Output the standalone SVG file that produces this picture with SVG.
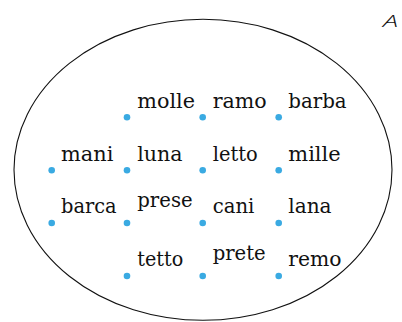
<svg xmlns="http://www.w3.org/2000/svg" width="402" height="322" viewBox="0 0 402 322">
<style>
.w{font-family:"DejaVu Serif","Liberation Serif",serif;font-size:20.3px;fill:#111}
.d{fill:#3aaae2}
.s{fill:none;stroke:#111;stroke-width:1.1}
</style>
<rect width="402" height="322" fill="#fff"/>
<g id="setA">
<ellipse class="s" cx="203" cy="169.8" rx="189" ry="150.5"/>
<text x="383" y="26.7" font-family="'Open Sans','DejaVu Sans',sans-serif" font-size="17" font-style="italic" font-weight="300" fill="#111" textLength="15" lengthAdjust="spacingAndGlyphs">A</text>
</g>
<g id="molle"><circle class="d" cx="127" cy="117.3" r="3.3"/><text class="w" x="137.3" y="108.3" textLength="57.7" lengthAdjust="spacingAndGlyphs">molle</text></g>
<g id="ramo"><circle class="d" cx="202.7" cy="117.3" r="3.3"/><text class="w" x="212.7" y="108.3" textLength="54" lengthAdjust="spacingAndGlyphs">ramo</text></g>
<g id="barba"><circle class="d" cx="278.7" cy="117.3" r="3.3"/><text class="w" x="288.3" y="108.3" textLength="58.3" lengthAdjust="spacingAndGlyphs">barba</text></g>
<g id="mani"><circle class="d" cx="51.7" cy="170.3" r="3.3"/><text class="w" x="61" y="161" textLength="52.3" lengthAdjust="spacingAndGlyphs">mani</text></g>
<g id="luna"><circle class="d" cx="127" cy="170.3" r="3.3"/><text class="w" x="137.3" y="161" textLength="45.3" lengthAdjust="spacingAndGlyphs">luna</text></g>
<g id="letto"><circle class="d" cx="202.7" cy="170.3" r="3.3"/><text class="w" x="212.7" y="161" textLength="45" lengthAdjust="spacingAndGlyphs">letto</text></g>
<g id="mille"><circle class="d" cx="278.7" cy="170.3" r="3.3"/><text class="w" x="288.3" y="161" textLength="52.3" lengthAdjust="spacingAndGlyphs">mille</text></g>
<g id="barca"><circle class="d" cx="51.7" cy="223" r="3.3"/><text class="w" x="61" y="213.3" textLength="55.7" lengthAdjust="spacingAndGlyphs">barca</text></g>
<g id="prese"><circle class="d" cx="127" cy="223" r="3.3"/><text class="w" x="137.3" y="207.3" textLength="55.3" lengthAdjust="spacingAndGlyphs">prese</text></g>
<g id="cani"><circle class="d" cx="202.7" cy="223" r="3.3"/><text class="w" x="212.7" y="213.3" textLength="41.7" lengthAdjust="spacingAndGlyphs">cani</text></g>
<g id="lana"><circle class="d" cx="278.7" cy="223" r="3.3"/><text class="w" x="288.3" y="213.3" textLength="43.3" lengthAdjust="spacingAndGlyphs">lana</text></g>
<g id="tetto"><circle class="d" cx="127" cy="276" r="3.3"/><text class="w" x="137.3" y="265.7" textLength="46" lengthAdjust="spacingAndGlyphs">tetto</text></g>
<g id="prete"><circle class="d" cx="202.7" cy="276" r="3.3"/><text class="w" x="212.7" y="260" textLength="53" lengthAdjust="spacingAndGlyphs">prete</text></g>
<g id="remo"><circle class="d" cx="278.7" cy="276" r="3.3"/><text class="w" x="288.3" y="265.7" textLength="53.3" lengthAdjust="spacingAndGlyphs">remo</text></g>
<g id="connectors"></g>
</svg>
